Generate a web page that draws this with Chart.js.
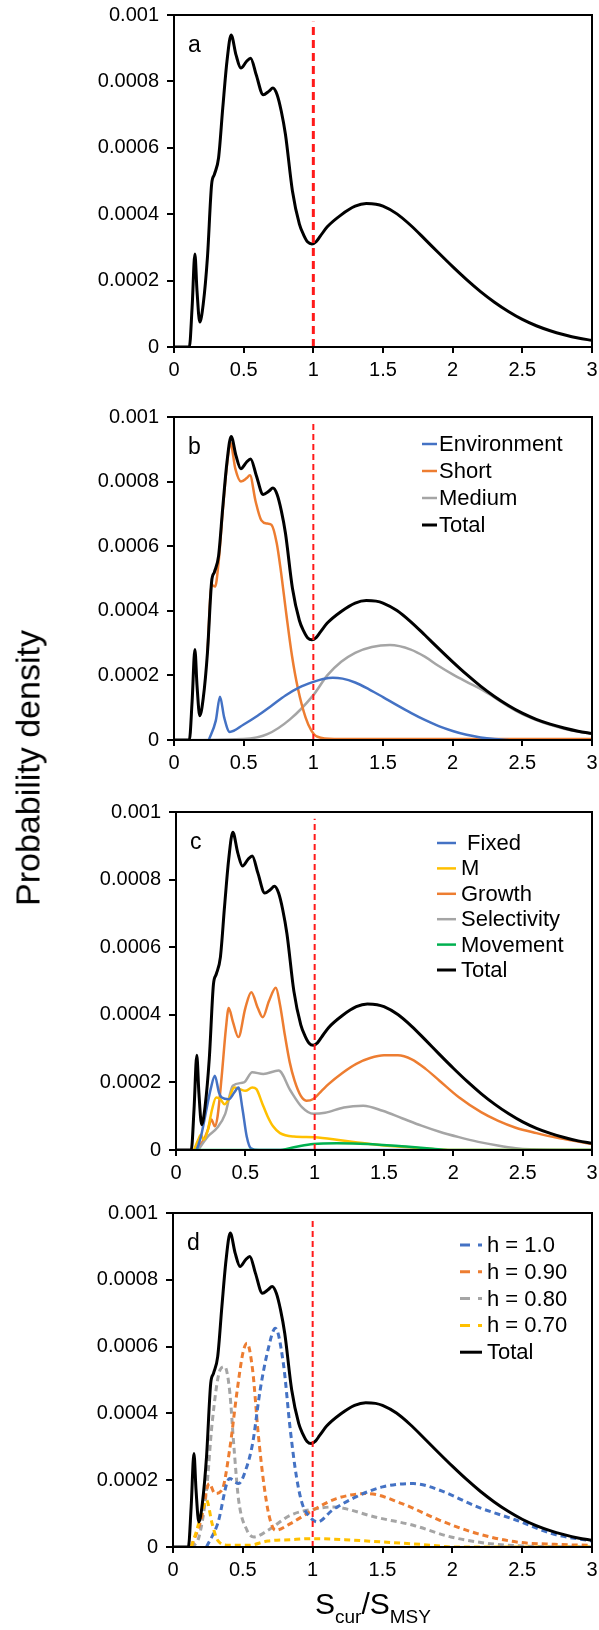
<!DOCTYPE html>
<html>
<head>
<meta charset="utf-8">
<script src="https://cdn.jsdelivr.net/npm/chart.js@4.4.0/dist/chart.umd.min.js"></script>
<style>
  body { margin: 0; background: #fff; width: 599px; height: 1630px; position: relative; overflow: hidden;
         font-family: "Liberation Sans", Arial, sans-serif; color: #000; }
  canvas { position: absolute; left: 0; }
  #ytitle { position: absolute; left: 28px; top: 768px; font-size: 34px; white-space: nowrap;
            transform: translate(-50%, -50%) rotate(-90deg); }
  #xtitle { position: absolute; left: 373px; top: 1607px; font-size: 30px; white-space: nowrap;
            transform: translate(-50%, -50%); z-index: 2; }
  #xtitle sub { font-size: 19px; vertical-align: -9px; }
</style>
</head>
<body>
<canvas id="panelA"></canvas>
<canvas id="panelB"></canvas>
<canvas id="panelC"></canvas>
<canvas id="panelD"></canvas>
<div id="ytitle">Probability density</div>
<div id="xtitle">S<sub>cur</sub>/S<sub>MSY</sub></div>
<script>
// axes
const xTicks = [0, 0.5, 1, 1.5, 2, 2.5, 3];
const xTickLabels = ['0', '0.5', '1', '1.5', '2', '2.5', '3'];
const yTicks = [0, 0.0002, 0.0004, 0.0006, 0.0008, 0.001];
const yTickLabels = ['0', '0.0002', '0.0004', '0.0006', '0.0008', '0.001'];

// S_cur/S_MSY = 1 reference line
const refX = [1, 1];
const refY = [0, 0.00098];

// total density (same in every panel)
const totalX = [0, 0.11, 0.13, 0.15, 0.165, 0.185, 0.21, 0.24, 0.27, 0.29, 0.32, 0.35, 0.38, 0.41, 0.445, 0.48, 0.52, 0.55, 0.59, 0.64,
  0.68, 0.71, 0.74, 0.77, 0.8, 0.85, 0.9, 0.93, 0.96, 0.99, 1.02, 1.05, 1.1, 1.2, 1.3, 1.38, 1.45, 1.5, 1.6, 1.7,
  1.8, 1.9, 2.0, 2.1, 2.2, 2.3, 2.4, 2.5, 2.6, 2.7, 2.8, 2.9, 3.0];
const totalY = [0, 0, 0.00012, 0.00028, 0.00017, 0.000075, 0.00013, 0.00027, 0.00049, 0.00052, 0.00057, 0.00072, 0.00086, 0.00094, 0.00088, 0.00084, 0.00086, 0.00087, 0.00082, 0.00076,
  0.00077, 0.00078, 0.00076, 0.00071, 0.00064, 0.00047, 0.00037, 0.000338, 0.000316, 0.00031, 0.000317, 0.000334, 0.000362, 0.000398, 0.000424, 0.000432, 0.00043, 0.000424, 0.000401, 0.000366,
  0.000325, 0.000283, 0.000242, 0.000203, 0.000167, 0.000135, 0.000107, 0.000083, 0.000064, 0.000049, 0.000037, 0.000027, 0.00002];

// panel b
const envX = [0.25, 0.3, 0.33, 0.36, 0.4, 0.5, 0.6, 0.7, 0.8, 0.9, 1.0, 1.07, 1.14, 1.21, 1.3, 1.4, 1.5, 1.6, 1.7, 1.8, 1.9, 2.0, 2.1, 2.2, 2.3, 2.4];
const envY = [0, 0.00006, 0.000134, 0.00007, 0.000025, 0.000048, 0.000075, 0.000106, 0.000138, 0.000163, 0.00018, 0.000189, 0.000193, 0.00019, 0.000178, 0.000157, 0.000133, 0.000108, 0.000084, 0.000062, 0.000043, 0.000028, 0.000016, 0.000008, 0.000003, 0];
const shortX = [0.24, 0.27, 0.295, 0.32, 0.35, 0.38, 0.405, 0.44, 0.48, 0.52, 0.545, 0.585, 0.627, 0.67, 0.7, 0.737, 0.765, 0.806, 0.847, 0.889, 0.944, 0.985, 1.03, 1.15, 3.0];
const shortY = [0.00027, 0.00048, 0.000475, 0.00055, 0.00071, 0.00085, 0.00092, 0.00084, 0.0008, 0.00081, 0.00082, 0.00074, 0.00068, 0.00067, 0.000666, 0.00061, 0.00053, 0.00039, 0.00026, 0.00016, 0.00007, 0.00003, 0.00001, 0.000003, 0.000003];
const mediumX = [0.12, 0.5, 0.67, 0.83, 1.0, 1.1, 1.2, 1.3, 1.42, 1.55, 1.7, 1.8, 1.9, 2.0, 2.1, 2.2, 2.3, 2.4, 2.5, 2.6, 2.7, 2.8, 2.9, 3.0];
const mediumY = [0, 0.000003, 0.000018, 0.000063, 0.000139, 0.0002, 0.000242, 0.00027, 0.000288, 0.000294, 0.00028, 0.000258, 0.000229, 0.000203, 0.00018, 0.000158, 0.000132, 0.000104, 0.00008, 0.000062, 0.000047, 0.000035, 0.000026, 0.000019];

// panel c
const fixedX = [0.15, 0.18, 0.21, 0.25, 0.28, 0.31, 0.33, 0.38, 0.42, 0.45, 0.48, 0.51, 0.54, 0.6, 1.72];
const fixedY = [0, 0.00004, 0.0001, 0.00018, 0.00022, 0.00017, 0.000155, 0.00015, 0.00017, 0.000185, 0.00012, 0.00004, 0.000005, 0, 0];
const mX = [0.13, 0.16, 0.18, 0.2, 0.23, 0.26, 0.29, 0.32, 0.35, 0.38, 0.42, 0.46, 0.5, 0.55, 0.58, 0.62, 0.66, 0.7, 0.75, 0.85, 1.0, 1.2, 1.4, 1.6, 1.8, 2.0, 3.0];
const mY = [0, 0.00003, 0.000045, 0.00003, 0.00006, 0.00012, 0.000155, 0.00015, 0.000135, 0.00015, 0.000185, 0.00018, 0.000175, 0.000185, 0.00018, 0.00014, 0.0001, 0.00007, 0.00005, 0.00004, 0.000038, 0.000028, 0.000018, 0.00001, 0.000004, 0, 0];
const growthX = [0.12, 0.16, 0.2, 0.23, 0.255, 0.28, 0.3, 0.33, 0.36, 0.38, 0.41, 0.45, 0.5, 0.543, 0.59, 0.626, 0.67, 0.72, 0.75, 0.785,
  0.82, 0.855, 0.9, 0.94, 0.99, 1.05, 1.1, 1.2, 1.3, 1.4, 1.5, 1.6, 1.7, 1.8, 1.9, 2.04, 2.2, 2.32, 2.45, 2.6, 2.75, 2.87, 3.0];
const growthY = [0, 0.00001, 0.00003, 0.00006, 0.00009, 0.00007, 0.0001, 0.00022, 0.00036, 0.00042, 0.00038, 0.000334, 0.00042, 0.000467, 0.00042, 0.000393, 0.00044, 0.00048, 0.00043, 0.00034,
  0.00026, 0.000205, 0.00016, 0.000146, 0.000151, 0.000175, 0.000195, 0.000228, 0.000255, 0.000272, 0.00028, 0.00028, 0.000268, 0.00024, 0.000205, 0.000156, 0.000112, 0.000087, 0.000066, 0.00005, 0.000036, 0.000027, 0.000018];
const selX = [0.16, 0.23, 0.3, 0.355, 0.41, 0.49, 0.55, 0.63, 0.74, 0.825, 0.91, 0.99, 1.075, 1.21, 1.35, 1.49, 1.63, 1.77, 1.9, 2.04, 2.18, 2.32, 2.45, 2.55, 3.0];
const selY = [0, 0.00004, 0.000067, 0.000107, 0.00019, 0.0002, 0.00023, 0.000225, 0.000235, 0.000176, 0.000126, 0.000107, 0.00011, 0.000126, 0.000131, 0.000116, 0.000094, 0.000072, 0.000054, 0.000038, 0.000024, 0.000013, 0.000005, 0.000002, 0];
const moveX = [0.13, 0.74, 0.85, 0.99, 1.16, 1.38, 1.66, 1.85, 1.96, 3.0];
const moveY = [0, 0, 0.000008, 0.000018, 0.00002, 0.000018, 0.00001, 0.000004, 0, 0];

// panel d (steepness h)
const h10X = [0.24, 0.32, 0.405, 0.47, 0.52, 0.57, 0.624, 0.68, 0.733, 0.79, 0.84, 0.884, 0.925, 0.98, 1.035, 1.14, 1.31, 1.5, 1.72, 1.91, 2.18, 2.46, 2.73, 3.0];
const h10Y = [0, 0.00007, 0.000205, 0.00019, 0.00023, 0.00031, 0.00047, 0.00059, 0.000655, 0.00055, 0.00035, 0.00021, 0.00013, 0.00009, 0.000075, 0.00011, 0.00015, 0.00018, 0.00019, 0.00017, 0.00012, 0.00008, 0.000038, 0.000018];
const h09X = [0.13, 0.2, 0.26, 0.3, 0.35, 0.405, 0.46, 0.5, 0.53, 0.57, 0.61, 0.65, 0.69, 0.733, 0.84, 1.0, 1.17, 1.39, 1.64, 1.91, 2.18, 2.46, 2.73, 3.0];
const h09Y = [0, 0.00008, 0.00019, 0.00016, 0.00017, 0.00029, 0.00047, 0.00058, 0.00061, 0.00053, 0.00034, 0.00019, 0.00009, 0.00005, 0.00007, 0.00011, 0.000145, 0.00016, 0.00013, 0.00008, 0.00004, 0.000015, 0.000008, 0.000005];
const h08X = [0.13, 0.186, 0.24, 0.28, 0.337, 0.37, 0.405, 0.438, 0.47, 0.53, 0.58, 0.68, 0.84, 1.035, 1.15, 1.23, 1.445, 1.72, 1.99, 2.27, 2.5, 3.0];
const h08Y = [0, 0.00003, 0.00017, 0.00037, 0.00053, 0.00054, 0.00047, 0.00029, 0.00014, 0.00005, 0.00003, 0.00005, 0.000095, 0.000115, 0.00012, 0.000115, 0.00009, 0.000065, 0.00003, 0.00001, 0.000003, 0];
const h07X = [0.13, 0.17, 0.21, 0.24, 0.28, 0.32, 0.4, 0.54, 0.68, 0.84, 1.0, 1.23, 1.5, 1.77, 1.91, 2.0, 3.0];
const h07Y = [0, 0.00005, 0.00011, 0.00014, 0.00007, 0.00002, 0.000005, 0.000005, 0.000018, 0.000022, 0.000025, 0.000022, 0.000015, 0.000008, 0.000003, 0, 0];

const blue = '#4472c4', orange = '#ed7d31', gray = '#a5a5a5', yellow = '#ffc000', green = '#00b050', red = '#ff1a1a';

Chart.defaults.font.family = '"Liberation Sans", Arial, sans-serif';
Chart.defaults.font.size = 20;
Chart.defaults.color = '#000';

function pts(xs, ys) {
  return xs.map((x, i) => ({ x, y: ys[i] }));
}

function line(label, xs, ys, color, width, order, extra) {
  return Object.assign({
    label, data: pts(xs, ys), borderColor: color, borderWidth: width, order,
    pointRadius: 0, fill: false, cubicInterpolationMode: 'monotone', borderJoinStyle: 'round',
  }, extra || {});
}

function refLine(width, dash) {
  return {
    label: '', data: pts(refX, refY), borderColor: red, borderWidth: width, borderDash: dash,
    pointRadius: 0, fill: false, tension: 0, order: 0,
  };
}

// frame, panel letter and in-plot legend
const panelDecor = {
  id: 'panelDecor',
  afterDraw(chart, args, opts) {
    const { ctx, chartArea: a } = chart;
    ctx.save();
    ctx.strokeStyle = '#000';
    ctx.lineWidth = 2;
    ctx.strokeRect(a.left, a.top, a.right - a.left, a.bottom - a.top);
    ctx.fillStyle = '#000';
    ctx.font = '23px "Liberation Sans", Arial, sans-serif';
    ctx.textBaseline = 'alphabetic';
    ctx.fillText(opts.letter, a.left + 14, a.top + 37);
    const L = opts.legend;
    if (L) {
      ctx.font = '22px "Liberation Sans", Arial, sans-serif';
      ctx.textBaseline = 'middle';
      L.labels.forEach((lab, i) => {
        const ds = chart.data.datasets.find((d) => d.label === lab);
        const y = a.top + L.top + i * L.step;
        ctx.beginPath();
        ctx.setLineDash(ds.legendDash || []);
        ctx.strokeStyle = ds.borderColor;
        ctx.lineWidth = ds.legendWidth || ds.borderWidth;
        ctx.moveTo(L.x0, y);
        ctx.lineTo(L.x0 + L.w, y);
        ctx.stroke();
        ctx.setLineDash([]);
        ctx.fillText(lab, L.tx, y + 1);
      });
    }
    ctx.restore();
  },
};

function makePanel(id, top, height, left, letter, datasets, legend) {
  const cv = document.getElementById(id);
  const padTop = 10, xAxisH = 45;
  cv.width = 599;
  cv.height = height + padTop + xAxisH;
  cv.style.top = (top - padTop) + 'px';
  return new Chart(cv, {
    type: 'line',
    data: { datasets },
    options: {
      responsive: false,
      animation: false,
      devicePixelRatio: 1,
      layout: { padding: { top: padTop, left: 0, right: 7, bottom: 0 } },
      plugins: { legend: { display: false }, tooltip: { enabled: false }, panelDecor: { letter, legend } },
      scales: {
        x: {
          type: 'linear', min: 0, max: 3,
          border: { display: false },
          grid: { drawOnChartArea: false, drawTicks: true, tickLength: 6, color: '#000', lineWidth: 2 },
          ticks: { padding: 5, maxRotation: 0, autoSkip: false, callback: (v, i) => xTickLabels[i] },
          afterBuildTicks: (s) => { s.ticks = xTicks.map((v) => ({ value: v })); },
          afterFit: (s) => { s.height = xAxisH; s.paddingLeft = 0; s.paddingRight = 0; },
        },
        y: {
          type: 'linear', min: 0, max: 0.001,
          border: { display: false },
          grid: { drawOnChartArea: false, drawTicks: true, tickLength: 7, color: '#000', lineWidth: 2 },
          ticks: { padding: 8, autoSkip: false, callback: (v, i) => yTickLabels[i] },
          afterBuildTicks: (s) => { s.ticks = yTicks.map((v) => ({ value: v })); },
          afterFit: (s) => { s.width = left; s.paddingTop = 0; s.paddingBottom = 0; },
        },
      },
    },
    plugins: [panelDecor],
  });
}

const dashD = { borderDash: [6, 4], legendDash: [10, 8, 4, 100] };

makePanel('panelA', 15, 332, 174, 'a', [
  refLine(3, [8, 5]),
  line('Total', totalX, totalY, '#000', 3, 1),
]);

makePanel('panelB', 417, 323, 174, 'b', [
  refLine(2, [6, 4]),
  line('Total', totalX, totalY, '#000', 3, 1),
  line('Environment', envX, envY, blue, 2.5, 2),
  line('Short', shortX, shortY, orange, 2.5, 3),
  line('Medium', mediumX, mediumY, gray, 2.5, 4),
], { x0: 422, w: 15, tx: 439, top: 27, step: 27, labels: ['Environment', 'Short', 'Medium', 'Total'] });

makePanel('panelC', 812, 338, 176, 'c', [
  refLine(2, [6, 4]),
  line('Total', totalX, totalY, '#000', 3, 1),
  line('Movement', moveX, moveY, green, 2.5, 2),
  line(' Fixed', fixedX, fixedY, blue, 2.5, 3),
  line('M', mX, mY, yellow, 2.5, 4),
  line('Selectivity', selX, selY, gray, 2.5, 5),
  line('Growth', growthX, growthY, orange, 2.5, 6),
], { x0: 437, w: 19, tx: 461, top: 31, step: 25.4, labels: [' Fixed', 'M', 'Growth', 'Selectivity', 'Movement', 'Total'] });

makePanel('panelD', 1213, 334, 173, 'd', [
  refLine(2, [6, 4]),
  line('Total', totalX, totalY, '#000', 3, 1),
  line('h = 0.70', h07X, h07Y, yellow, 3, 2, dashD),
  line('h = 1.0', h10X, h10Y, blue, 3, 3, dashD),
  line('h = 0.90', h09X, h09Y, orange, 3, 4, dashD),
  line('h = 0.80', h08X, h08Y, gray, 3, 5, dashD),
], { x0: 460, w: 22, tx: 487, top: 32, step: 26.8, labels: ['h = 1.0', 'h = 0.90', 'h = 0.80', 'h = 0.70', 'Total'] });
</script>
</body>
</html>
